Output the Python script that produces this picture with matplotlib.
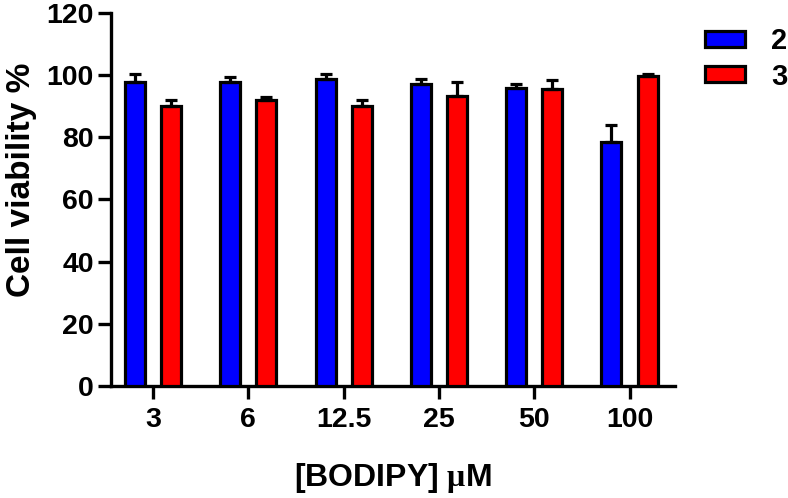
import numpy as np
import matplotlib
matplotlib.use('Agg')
import matplotlib.pyplot as plt

plt.rcParams['font.family'] = ['Liberation Sans', 'DejaVu Sans']
plt.rcParams['font.weight'] = 'bold'
plt.rcParams['mathtext.fontset'] = 'custom'
plt.rcParams['mathtext.it'] = 'Liberation Serif'
plt.rcParams['mathtext.rm'] = 'Liberation Serif'

# data
concentrations = ['3', '6', '12.5', '25', '50', '100']
viability_2 = [97.7, 97.7, 98.7, 97.3, 95.7, 78.6]
error_2 = [2.5, 1.8, 1.8, 1.6, 1.4, 5.5]
viability_3 = [90.2, 92.0, 90.2, 93.2, 95.4, 99.7]
error_3 = [1.8, 0.9, 1.8, 4.5, 2.9, 0.7]

fig = plt.figure(figsize=(7.88, 4.98), dpi=100)
ax = fig.add_axes([0.141, 0.225, 0.716, 0.749])

x = np.arange(len(concentrations))
w = 0.21
off = 0.19
lw = 2.3

ax.bar(x - off, viability_2, w, color='#0000ff', edgecolor='black', linewidth=lw,
       yerr=[np.zeros(len(error_2)), error_2],
       error_kw=dict(ecolor='black', elinewidth=lw, capsize=4.5, capthick=lw),
       label='2', zorder=3)
ax.bar(x + off, viability_3, w, color='#ff0000', edgecolor='black', linewidth=lw,
       yerr=[np.zeros(len(error_3)), error_3],
       error_kw=dict(ecolor='black', elinewidth=lw, capsize=4.5, capthick=lw),
       label='3', zorder=3)

ax.set_xlim(-0.44, 5.48)
ax.set_ylim(0, 120)
ax.set_yticks(np.arange(0, 121, 20))
ax.set_xticks(x)
ax.set_xticklabels(concentrations)

for s in ['top', 'right']:
    ax.spines[s].set_visible(False)
for s in ['left', 'bottom']:
    ax.spines[s].set_linewidth(2.4)

ax.tick_params(axis='both', width=2.4, length=9.5, labelsize=20.5, pad=3)
ax.tick_params(axis='x', pad=6)

ax.set_ylabel('Cell viability %', fontsize=24, fontweight='bold')
ax.yaxis.set_label_coords(-0.131, 0.552)
ax.set_xlabel(r'[BODIPY] $\mu$M', fontsize=23, fontweight='bold', labelpad=20)

leg = fig.legend(loc='upper left', bbox_to_anchor=(0.895, 0.945), frameon=False,
                 fontsize=21, handlelength=1.35, handleheight=0.45,
                 labelspacing=0.25, handletextpad=0.9, borderpad=0, borderaxespad=0)

fig.savefig('out.png', dpi=100)
